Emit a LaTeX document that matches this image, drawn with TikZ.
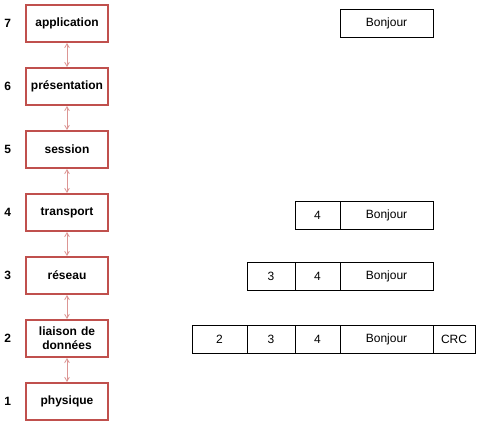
\documentclass[tikz,border=0pt]{standalone}
\usepackage{fontspec}
\setmainfont{Liberation Sans}
\usetikzlibrary{matrix,arrows,positioning}
\definecolor{layerred}{RGB}{192,80,77}
\definecolor{linkpink}{RGB}{220,150,148}

\begin{document}
\begin{tikzpicture}[x=1pt, y=-1pt, >=angle 60,
    layer/.style={draw=layerred, line width=2pt, minimum width=82pt, minimum height=37pt,
      inner sep=1pt, text width=76pt, align=center, font=\bfseries\fontsize{12}{14}\selectfont},
    num/.style={inner sep=0pt, font=\bfseries\fontsize{12}{14}\selectfont},
    field/.style={draw, line width=0.8pt, outer sep=0pt, inner sep=0pt, minimum height=28pt,
      font=\fontsize{12}{14}\selectfont}]
  \useasboundingbox (0,0) rectangle (500,432);
  \matrix (m) [matrix of nodes, row sep=24pt, column sep=14pt, nodes={anchor=center},
    column 1/.style={nodes={num}}, column 2/.style={nodes={layer}},
    matrix anchor=m-1-2.center] at (67,23.5)
  {
    7 & application \\
    6 & présentation \\
    5 & session \\
    4 & transport \\
    3 & réseau \\
    2 & liaison de données \\
    1 & physique \\
  };
  \path[<->, linkpink, line width=0.8pt]
  (m-1-2) edge (m-2-2)
  (m-2-2) edge (m-3-2)
  (m-3-2) edge (m-4-2)
  (m-4-2) edge (m-5-2)
  (m-5-2) edge (m-6-2)
  (m-6-2) edge (m-7-2)
          ;
  % application
  \node[field, minimum width=93pt] (d7) at (386.5,23.5) {Bonjour};
  % transport
  \node[field, minimum width=93pt] (d4) at (386.5,215) {Bonjour};
  \node[field, minimum width=45pt, left=0pt of d4] (t4) {4};
  % reseau
  \node[field, minimum width=93pt] (d3) at (386.5,276) {Bonjour};
  \node[field, minimum width=45pt, left=0pt of d3] (t3) {4};
  \node[field, minimum width=48pt, left=0pt of t3] (r3) {3};
  % liaison
  \node[field, minimum width=93pt] (d2) at (386.5,339) {Bonjour};
  \node[field, minimum width=45pt, left=0pt of d2] (t2) {4};
  \node[field, minimum width=48pt, left=0pt of t2] (r2) {3};
  \node[field, minimum width=55pt, left=0pt of r2] (l2) {2};
  \node[field, minimum width=42pt, right=0pt of d2] (c2) {CRC};
\end{tikzpicture}
\end{document}
